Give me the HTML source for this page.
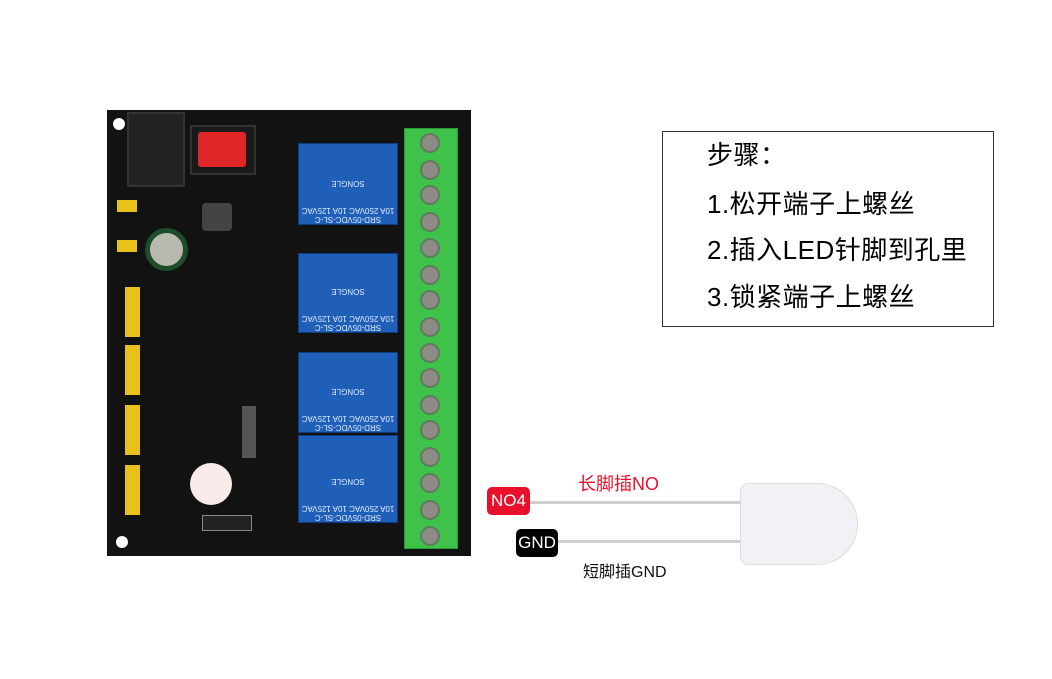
<!DOCTYPE html>
<html><head><meta charset="utf-8"><style>
body{margin:0;width:1052px;height:679px;background:#fff;position:relative;overflow:hidden;font-family:"Liberation Sans","Noto Sans CJK SC",sans-serif}
div{position:absolute;box-sizing:border-box}
.relay{background:#1f5fb8;border:1px solid #0d3d80;left:298px;width:100px;color:#dfe9ff;font-size:8px;text-align:center;transform:rotate(180deg)}
.scr{left:420px;width:20px;height:20px;border-radius:50%;background:#8e8b86;border:2px solid #5d7d5b}
.yel{background:#e8c21a;left:125px;width:15px}
.lab{font-size:26px;color:#000;left:707px;line-height:30px;letter-spacing:0.5px}
</style></head><body>
<div style="left:107px;top:110px;width:364px;height:446px;background:#121212"></div>
<div style="left:113px;top:118px;width:12px;height:12px;border-radius:50%;background:#fff"></div>
<div style="left:116px;top:536px;width:12px;height:12px;border-radius:50%;background:#fff"></div>
<div style="left:127px;top:112px;width:58px;height:75px;background:#222;border:2px solid #333"></div>
<div style="left:190px;top:125px;width:66px;height:50px;background:#1a1a1a;border:2px solid #333"></div>
<div style="left:198px;top:132px;width:48px;height:35px;background:#e02626;border-radius:3px"></div>
<div style="left:202px;top:203px;width:30px;height:28px;background:#444;border-radius:4px"></div>
<div style="left:145px;top:228px;width:43px;height:43px;border-radius:50%;background:#b9b9b0;border:5px solid #1d4d2a"></div>
<div class="yel" style="left:117px;top:200px;width:20px;height:12px"></div>
<div class="yel" style="left:117px;top:240px;width:20px;height:12px"></div>
<div class="yel" style="top:287px;height:50px"></div>
<div class="yel" style="top:345px;height:50px"></div>
<div class="yel" style="top:405px;height:50px"></div>
<div class="yel" style="top:465px;height:50px"></div>
<div style="left:190px;top:463px;width:42px;height:42px;border-radius:50%;background:#fbeaea"></div>
<div style="left:202px;top:515px;width:50px;height:16px;border:1px solid #888;background:#222"></div>
<div style="left:242px;top:406px;width:14px;height:52px;background:#555"></div>
<div class="relay" style="top:143px;height:82px">SRD-05VDC-SL-C<br>10A 250VAC 10A 125VAC<br><br><br>SONGLE</div>
<div class="relay" style="top:253px;height:80px">SRD-05VDC-SL-C<br>10A 250VAC 10A 125VAC<br><br><br>SONGLE</div>
<div class="relay" style="top:352px;height:81px">SRD-05VDC-SL-C<br>10A 250VAC 10A 125VAC<br><br><br>SONGLE</div>
<div class="relay" style="top:435px;height:88px">SRD-05VDC-SL-C<br>10A 250VAC 10A 125VAC<br><br><br>SONGLE</div>
<div style="left:404px;top:128px;width:54px;height:421px;background:#3fc24a;border:1px solid #2a9a35"></div>
<div class="scr" style="top:133px"></div><div class="scr" style="top:160px"></div><div class="scr" style="top:185px"></div><div class="scr" style="top:212px"></div>
<div class="scr" style="top:238px"></div><div class="scr" style="top:265px"></div><div class="scr" style="top:290px"></div><div class="scr" style="top:317px"></div>
<div class="scr" style="top:343px"></div><div class="scr" style="top:368px"></div><div class="scr" style="top:395px"></div><div class="scr" style="top:420px"></div>
<div class="scr" style="top:447px"></div><div class="scr" style="top:473px"></div><div class="scr" style="top:500px"></div><div class="scr" style="top:526px"></div>
<div style="left:662px;top:131px;width:332px;height:196px;border:1px solid #333"></div>
<div class="lab" style="top:140px">步骤：</div>
<div class="lab" style="top:189px">1.松开端子上螺丝</div>
<div class="lab" style="top:235px">2.插入LED针脚到孔里</div>
<div class="lab" style="top:282px">3.锁紧端子上螺丝</div>
<div style="left:530px;top:501px;width:240px;height:3px;background:#cfcfcf"></div>
<div style="left:555px;top:540px;width:215px;height:3px;background:#cfcfcf"></div>
<div style="left:740px;top:483px;width:118px;height:82px;border-radius:8px 41px 41px 8px;background:#f1f1f6;border:1px solid #ddd"></div>
<div style="left:487px;top:487px;width:43px;height:28px;background:#e8102a;border-radius:5px;color:#fff;font-size:17px;line-height:28px;text-align:center">NO4</div>
<div style="left:516px;top:529px;width:42px;height:28px;background:#000;border-radius:5px;color:#fff;font-size:17px;line-height:28px;text-align:center">GND</div>
<div style="left:578px;top:470px;color:#e8102a;font-size:18px">长脚插NO</div>
<div style="left:583px;top:558px;color:#111;font-size:16px">短脚插GND</div>
</body></html>
